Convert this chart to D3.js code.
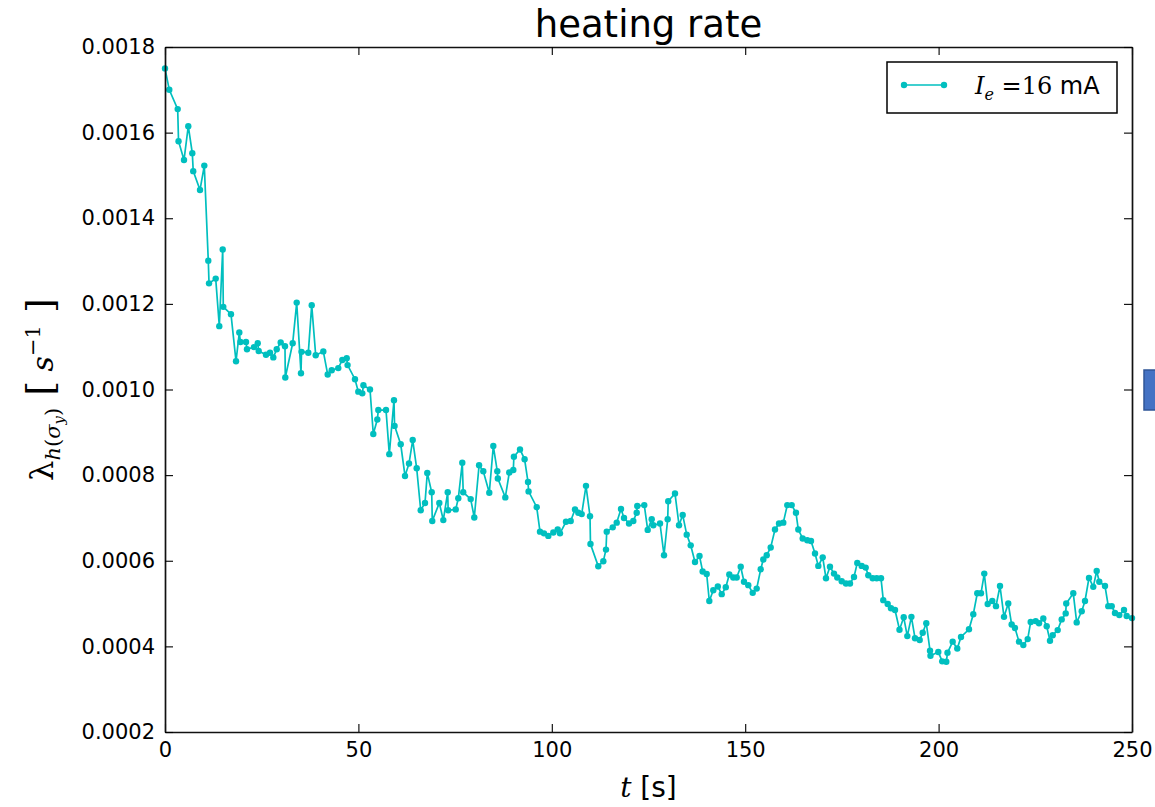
<!DOCTYPE html>
<html lang="en">
<head>
  <meta charset="UTF-8" />
  <title>heating rate</title>
  <style>
  body { margin: 0; background: #fff; }
  .tick text { font-family: "DejaVu Sans", sans-serif; font-size: 21px; fill: #000; }
  .tick line { stroke: #000; stroke-width: 1.1; }
  .domain { stroke: #111; stroke-width: 1.7; }
  </style>
</head>
<body>
  <script src="https://cdn.jsdelivr.net/npm/d3@7"></script>
  <script>
  // time axis [s]
  var times = [0, 1.11, 3.28, 3.5, 4.91, 6.02, 7.06, 7.3, 9.05, 10.16,
    11.19, 11.38, 13.11, 14.04, 14.92, 15.07, 17.06, 18.36, 19.21, 19.5,
    20.94, 21.2, 23.01, 23.97, 24.22, 26.11, 27.15, 28.0, 28.88, 29.91,
    31.02, 31.1, 33.01, 34.05, 35.16, 35.3, 37.05, 37.93, 38.96, 40.93,
    42.06, 43.1, 44.8, 45.84, 46.98, 47.2, 49.12, 49.97, 51.01, 51.3,
    53.0, 53.85, 54.89, 55.15, 57.14, 57.99, 59.2, 59.35, 60.94, 62.05,
    63.08, 64.04, 65.07, 66.11, 67.22, 67.81, 68.95, 69.1, 70.92, 71.95,
    73.09, 73.2, 75.16, 75.83, 76.86, 77.1, 79.03, 79.96, 81.2, 82.29,
    83.84, 84.88, 85.91, 86.05, 87.98, 89.01, 90.05, 90.2, 91.78, 92.97,
    93.85, 94.0, 96.1, 96.95, 97.98, 99.1, 100.39, 101.53, 102.12, 103.67,
    104.89, 106.0, 106.85, 107.73, 108.84, 109.88, 110.0, 112.02, 113.32, 114.01,
    114.2, 115.75, 116.78, 117.89, 118.67, 119.96, 121.07, 121.95, 122.1, 123.91,
    124.79, 125.83, 126.24, 127.97, 129.01, 129.96, 130.1, 131.85, 132.89, 133.84,
    134.88, 135.91, 137.02, 138.19, 139.0, 140.04, 140.72, 141.75, 142.92, 143.93,
    144.98, 145.89, 146.92, 147.8, 148.84, 149.69, 150.8, 151.94, 152.97, 154.01,
    154.68, 155.56, 156.59, 157.7, 158.74, 159.85, 160.88, 162.02, 163.13, 163.73,
    164.86, 166.05, 167.01, 168.05, 168.9, 170.04, 170.89, 171.92, 172.96, 173.81,
    174.95, 176.06, 177.09, 178.13, 178.98, 180.12, 181.15, 181.83, 182.96, 184.0,
    185.11, 185.7, 186.84, 187.69, 188.73, 189.89, 190.98, 191.91, 192.97, 193.9,
    195.11, 195.89, 196.82, 197.78, 197.9, 199.92, 200.93, 201.99, 202.3, 203.64,
    204.83, 205.79, 207.86, 208.97, 210.0, 210.96, 211.81, 212.69, 213.88, 214.84,
    215.87, 216.91, 218.01, 218.89, 219.75, 220.78, 221.9, 223.03, 223.81, 225.1,
    225.96, 227.07, 227.95, 228.8, 229.5, 230.79, 231.82, 232.86, 233.0, 234.82,
    235.7, 237.0, 237.85, 238.88, 239.99, 240.87, 241.54, 243.02, 243.87, 244.75,
    245.6, 246.72, 247.93, 248.63, 250.0];

  // heating rate [1/s], I_e = 16 mA
  var rates = [0.001750, 0.001700, 0.001655, 0.001580, 0.001536, 0.001615, 0.001552, 0.001510, 0.001466, 0.001523,
    0.001301, 0.001248, 0.001259, 0.001148, 0.001327, 0.001193, 0.001176, 0.001066, 0.001133, 0.001111,
    0.001111, 0.001094, 0.001099, 0.001108, 0.001090, 0.001081, 0.001086, 0.001075, 0.001094, 0.001110,
    0.001101, 0.001028, 0.001108, 0.001203, 0.001038, 0.001088, 0.001086, 0.001197, 0.001080, 0.001089,
    0.001035, 0.001045, 0.001050, 0.001069, 0.001073, 0.001057, 0.001024, 0.000995, 0.000991, 0.001010,
    0.001000, 0.000896, 0.000930, 0.000952, 0.000952, 0.000849, 0.000975, 0.000915, 0.000872, 0.000798,
    0.000827, 0.000882, 0.000816, 0.000718, 0.000735, 0.000805, 0.000760, 0.000693, 0.000735, 0.000695,
    0.000760, 0.000718, 0.000720, 0.000746, 0.000829, 0.000760, 0.000744, 0.000701, 0.000823, 0.000809,
    0.000759, 0.000868, 0.000809, 0.000792, 0.000748, 0.000806, 0.000812, 0.000843, 0.000860, 0.000837,
    0.000784, 0.000762, 0.000725, 0.000668, 0.000664, 0.000658, 0.000666, 0.000673, 0.000664, 0.000691,
    0.000693, 0.000720, 0.000712, 0.000709, 0.000775, 0.000704, 0.000639, 0.000587, 0.000599, 0.000626,
    0.000668, 0.000678, 0.000689, 0.000721, 0.000700, 0.000687, 0.000693, 0.000712, 0.000728, 0.000730,
    0.000672, 0.000697, 0.000683, 0.000687, 0.000613, 0.000697, 0.000739, 0.000757, 0.000683, 0.000707,
    0.000661, 0.000636, 0.000597, 0.000611, 0.000575, 0.000569, 0.000506, 0.000531, 0.000540, 0.000522,
    0.000538, 0.000568, 0.000561, 0.000561, 0.000586, 0.000551, 0.000543, 0.000525, 0.000535, 0.000580,
    0.000603, 0.000613, 0.000631, 0.000673, 0.000687, 0.000689, 0.000730, 0.000730, 0.000712, 0.000673,
    0.000652, 0.000648, 0.000646, 0.000617, 0.000588, 0.000608, 0.000559, 0.000586, 0.000570, 0.000561,
    0.000552, 0.000547, 0.000547, 0.000562, 0.000595, 0.000588, 0.000584, 0.000566, 0.000559, 0.000559,
    0.000559, 0.000508, 0.000499, 0.000489, 0.000485, 0.000439, 0.000468, 0.000424, 0.000469, 0.000419,
    0.000415, 0.000432, 0.000454, 0.000390, 0.000378, 0.000387, 0.000365, 0.000364, 0.000385, 0.000411,
    0.000395, 0.000422, 0.000440, 0.000475, 0.000524, 0.000524, 0.000570, 0.000499, 0.000506, 0.000494,
    0.000541, 0.000469, 0.000500, 0.000451, 0.000443, 0.000411, 0.000403, 0.000417, 0.000457, 0.000459,
    0.000454, 0.000465, 0.000447, 0.000413, 0.000426, 0.000438, 0.000463, 0.000477, 0.000500, 0.000524,
    0.000456, 0.000482, 0.000506, 0.000560, 0.000539, 0.000576, 0.000551, 0.000541, 0.000494, 0.000494,
    0.000478, 0.000473, 0.000485, 0.000471, 0.000466];

  var xTicks = [0, 50, 100, 150, 200, 250];
  var yTicks = [0.0002, 0.0004, 0.0006, 0.0008, 0.0010, 0.0012, 0.0014, 0.0016, 0.0018];

  var data = times.map(function(t, i) { return {t: t, v: rates[i]}; });

  var W = 1155, H = 807;
  var margin = {top: 47, right: 23, bottom: 75, left: 165},
      width = W - margin.left - margin.right,
      height = H - margin.top - margin.bottom;

  var svg = d3.select("body").append("svg")
    .attr("width", W)
    .attr("height", H);

  var x = d3.scaleLinear().domain([0, 250]).range([0, width]);
  var y = d3.scaleLinear().domain([0.0002, 0.0018]).range([height, 0]);

  var g = svg.append("g")
    .attr("transform", "translate(" + margin.left + "," + margin.top + ")");

  // line + markers
  var line = d3.line()
    .x(function(d) { return x(d.t); })
    .y(function(d) { return y(d.v); });

  g.append("path")
    .datum(data)
    .attr("fill", "none")
    .attr("stroke", "#00bfbf")
    .attr("stroke-width", 1.7)
    .attr("d", line);

  g.selectAll("circle.pt")
    .data(data)
    .enter()
    .append("circle")
      .attr("class", "pt")
      .attr("cx", function(d) { return x(d.t); })
      .attr("cy", function(d) { return y(d.v); })
      .attr("r", 3.2)
      .attr("fill", "#00bfbf");

  // axes, ticks inward on all four sides
  g.append("g")
    .attr("transform", "translate(0," + height + ")")
    .call(d3.axisBottom(x).tickValues(xTicks).tickSize(-8).tickSizeOuter(0).tickPadding(10));
  g.append("g")
    .call(d3.axisTop(x).tickValues(xTicks).tickSize(-8).tickSizeOuter(0).tickFormat(""));
  g.append("g")
    .call(d3.axisLeft(y).tickValues(yTicks).tickSize(-8).tickSizeOuter(0).tickPadding(10).tickFormat(d3.format(".4f")));
  g.append("g")
    .attr("transform", "translate(" + width + ",0)")
    .call(d3.axisRight(y).tickValues(yTicks).tickSize(-8).tickSizeOuter(0).tickFormat(""));

  // title
  svg.append("text")
    .attr("x", margin.left + width / 2)
    .attr("y", 37)
    .attr("text-anchor", "middle")
    .style("font-family", "DejaVu Sans, sans-serif")
    .style("font-size", "37px")
    .text("heating rate");

  // x label
  var xl = svg.append("text")
    .attr("x", margin.left + width / 2)
    .attr("y", 797)
    .attr("text-anchor", "middle")
    .style("font-size", "28px");
  xl.append("tspan").style("font-family", "DejaVu Serif, serif").style("font-style", "italic").text("t");
  xl.append("tspan").style("font-family", "DejaVu Sans, sans-serif").text(" [s]");

  // y label
  var yl = svg.append("text")
    .attr("transform", "translate(53," + (margin.top + height / 2) + ") rotate(-90)")
    .attr("text-anchor", "middle")
    .style("font-family", "DejaVu Serif, serif")
    .style("font-size", "32px");
  yl.append("tspan").text("λ");
  yl.append("tspan").attr("dy", 7).style("font-size", "21px").style("font-style", "italic").text("h");
  yl.append("tspan").style("font-size", "21px").text("(");
  yl.append("tspan").style("font-size", "21px").style("font-style", "italic").text("σ");
  yl.append("tspan").attr("dy", 4).style("font-size", "15px").style("font-style", "italic").text("y");
  yl.append("tspan").attr("dy", -4).style("font-size", "21px").text(")");
  yl.append("tspan").attr("dy", -7).style("font-size", "38px").text("  [");
  yl.append("tspan").style("font-style", "italic").style("font-size", "30px").text(" s");
  yl.append("tspan").attr("dy", -13).style("font-size", "21px").text("−1");
  yl.append("tspan").attr("dy", 13).style("font-size", "38px").text(" ]");

  // legend
  var lg = svg.append("g").attr("transform", "translate(887,62)");
  lg.append("rect")
    .attr("width", 230).attr("height", 51)
    .attr("fill", "#fff").attr("stroke", "#000").attr("stroke-width", 1.5);
  lg.append("line")
    .attr("x1", 17).attr("x2", 57).attr("y1", 23).attr("y2", 23)
    .attr("stroke", "#00bfbf").attr("stroke-width", 1.7);
  lg.selectAll("circle").data([17, 57]).enter().append("circle")
    .attr("cx", function(d) { return d; }).attr("cy", 23).attr("r", 3.2).attr("fill", "#00bfbf");
  var lt = lg.append("text").attr("x", 88).attr("y", 32).style("font-size", "24px");
  lt.append("tspan").style("font-family", "DejaVu Serif, serif").style("font-style", "italic").text("I");
  lt.append("tspan").attr("dy", 6).style("font-family", "DejaVu Serif, serif").style("font-style", "italic").style("font-size", "16px").text("e");
  lt.append("tspan").attr("dy", -6).style("font-family", "DejaVu Serif, serif").text(" =16");
  lt.append("tspan").style("font-family", "DejaVu Sans, sans-serif").text(" mA");

  // stray blue box at right edge
  svg.append("rect")
    .attr("x", 1144).attr("y", 370).attr("width", 14).attr("height", 40)
    .attr("fill", "#4472c4").attr("stroke", "#2f5597").attr("stroke-width", 1.5);
  </script>
</body>
</html>
